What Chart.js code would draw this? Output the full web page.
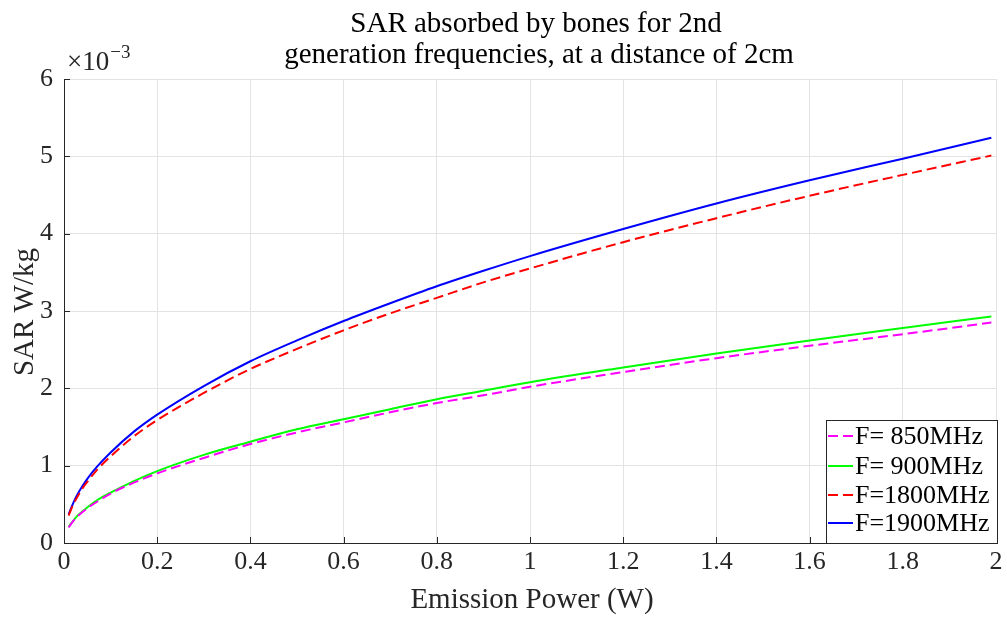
<!DOCTYPE html>
<html>
<head>
<meta charset="utf-8">
<script src="https://cdn.jsdelivr.net/npm/chart.js@4"></script>
<style>
  html, body { margin: 0; padding: 0; background: #fff; }
  #wrap { width: 1007px; height: 617px; }
</style>
</head>
<body>
<div id="wrap"><canvas id="c" width="1007" height="617"></canvas></div>
<script>
// emission power (W)
const power = [0.01, 0.02, 0.03, 0.04, 0.05, 0.07, 0.1, 0.15, 0.2, 0.3, 0.4, 0.5, 0.6, 0.7, 0.8, 0.9, 1.0, 1.2, 1.4, 1.6, 1.8, 1.99];
// SAR values, in units of 1e-3 W/kg
const sar850  = [0.20, 0.285, 0.35, 0.40, 0.45, 0.53, 0.64, 0.78, 0.90, 1.10, 1.28, 1.43, 1.56, 1.69, 1.81, 1.91, 2.02, 2.21, 2.39, 2.55, 2.70, 2.85];
const sar900  = [0.21, 0.29, 0.36, 0.41, 0.46, 0.55, 0.65, 0.80, 0.93, 1.14, 1.31, 1.47, 1.60, 1.73, 1.86, 1.97, 2.08, 2.27, 2.45, 2.62, 2.78, 2.93];
const sar1800 = [0.355, 0.50, 0.61, 0.71, 0.79, 0.94, 1.12, 1.38, 1.59, 1.94, 2.25, 2.51, 2.75, 2.97, 3.17, 3.37, 3.55, 3.89, 4.20, 4.49, 4.76, 5.01];
const sar1900 = [0.37, 0.52, 0.64, 0.74, 0.83, 0.98, 1.17, 1.44, 1.66, 2.03, 2.35, 2.62, 2.87, 3.10, 3.32, 3.52, 3.71, 4.06, 4.39, 4.69, 4.97, 5.24];
const seriesNames = ['F= 850MHz', 'F= 900MHz', 'F=1800MHz', 'F=1900MHz'];
const xTicks = [0, 0.2, 0.4, 0.6, 0.8, 1, 1.2, 1.4, 1.6, 1.8, 2];
const titleLines = ['SAR absorbed by bones for 2nd', 'generation frequencies, at a distance of 2cm'];
const xLabel = 'Emission Power (W)';
const yLabel = 'SAR W/kg';

const FONT = '"Liberation Serif", "DejaVu Serif", serif';
const AXIS = '#262626';

function pts(ys) {
  return power.map((x, i) => ({ x: x, y: ys[i] }));
}

function ds(label, ys, color, dash) {
  return {
    label: label,
    data: pts(ys),
    borderColor: color,
    backgroundColor: color,
    borderWidth: 2,
    borderDash: dash,
    pointRadius: 0,
    cubicInterpolationMode: 'monotone',
    fill: false
  };
}

const extras = {
  id: 'extras',
  afterDraw(chart) {
    const ctx = chart.ctx;
    const a = chart.chartArea;
    const xs = chart.scales.x, ys = chart.scales.y;
    ctx.save();
    // inward ticks
    ctx.strokeStyle = AXIS;
    ctx.lineWidth = 1;
    ctx.beginPath();
    xs.ticks.forEach(t => {
      const px = Math.round(xs.getPixelForValue(t.value)) + 0.5;
      ctx.moveTo(px, a.bottom); ctx.lineTo(px, a.bottom - 6);
    });
    ys.ticks.forEach(t => {
      const py = Math.round(ys.getPixelForValue(t.value)) + 0.5;
      ctx.moveTo(a.left, py); ctx.lineTo(a.left + 6, py);
    });
    ctx.stroke();

    // title
    ctx.fillStyle = '#000';
    ctx.font = '29px ' + FONT;
    ctx.textAlign = 'center';
    ctx.textBaseline = 'alphabetic';
    ctx.fillText(titleLines[0], 536, 32);
    ctx.fillText(titleLines[1], 539, 63);

    // axis titles
    ctx.fillStyle = AXIS;
    ctx.font = '29px ' + FONT;
    ctx.fillText(xLabel, 532, 608);
    ctx.save();
    ctx.translate(33, 312);
    ctx.rotate(-Math.PI / 2);
    ctx.fillText(yLabel, 0, 0);
    ctx.restore();

    // exponent
    ctx.textAlign = 'left';
    ctx.font = '27px ' + FONT;
    ctx.fillText('\u00d710', 67, 70);
    const w = ctx.measureText('\u00d710').width;
    ctx.font = '19px ' + FONT;
    ctx.fillText('\u22123', 67 + w + 1, 58);

    // legend
    const bx = 826, by = 420, bw = 171, bh = 123;
    ctx.fillStyle = '#fff';
    ctx.fillRect(bx, by, bw, bh);
    ctx.strokeStyle = AXIS;
    ctx.lineWidth = 1;
    ctx.strokeRect(bx + 0.5, by + 0.5, bw, bh);
    const rows = [436, 466, 495, 523];
    ctx.font = '26px ' + FONT;
    ctx.textBaseline = 'middle';
    chart.data.datasets.forEach((d, i) => {
      ctx.strokeStyle = d.borderColor;
      ctx.lineWidth = 2;
      ctx.setLineDash(d.borderDash || []);
      ctx.beginPath();
      ctx.moveTo(828, rows[i]); ctx.lineTo(853, rows[i]);
      ctx.stroke();
      ctx.setLineDash([]);
      ctx.fillStyle = '#000';
      ctx.fillText(d.label, 855, rows[i] + 1);
    });
    ctx.restore();
  }
};

new Chart(document.getElementById('c'), {
  type: 'line',
  data: {
    datasets: [
      ds(seriesNames[0], sar850, '#ff00ff', [10, 5]),
      ds(seriesNames[1], sar900, '#00ff00', []),
      ds(seriesNames[2], sar1800, '#ff0000', [10, 5]),
      ds(seriesNames[3], sar1900, '#0000ff', [])
    ]
  },
  options: {
    responsive: false,
    animation: false,
    layout: { padding: { top: 79, left: 0, right: 11, bottom: 0 } },
    plugins: {
      legend: { display: false },
      title: { display: false },
      tooltip: { enabled: false }
    },
    scales: {
      x: {
        type: 'linear',
        min: 0,
        max: 2,
        afterFit: s => { s.height = 74; },
        afterBuildTicks: s => { s.ticks = xTicks.map(v => ({ value: v })); },
        ticks: {
          color: AXIS,
          font: { family: FONT, size: 26 },
          padding: 4,
          maxRotation: 0,
          callback: v => String(Number(v.toFixed(1)))
        },
        grid: { color: '#e3e3e3', drawTicks: false },
        border: { color: AXIS, width: 1 }
      },
      y: {
        type: 'linear',
        min: 0,
        max: 6,
        afterFit: s => { s.width = 64; },
        ticks: {
          stepSize: 1,
          color: AXIS,
          font: { family: FONT, size: 26 },
          padding: 11
        },
        grid: { color: '#e3e3e3', drawTicks: false },
        border: { color: AXIS, width: 1 }
      }
    }
  },
  plugins: [extras]
});
</script>
</body>
</html>
